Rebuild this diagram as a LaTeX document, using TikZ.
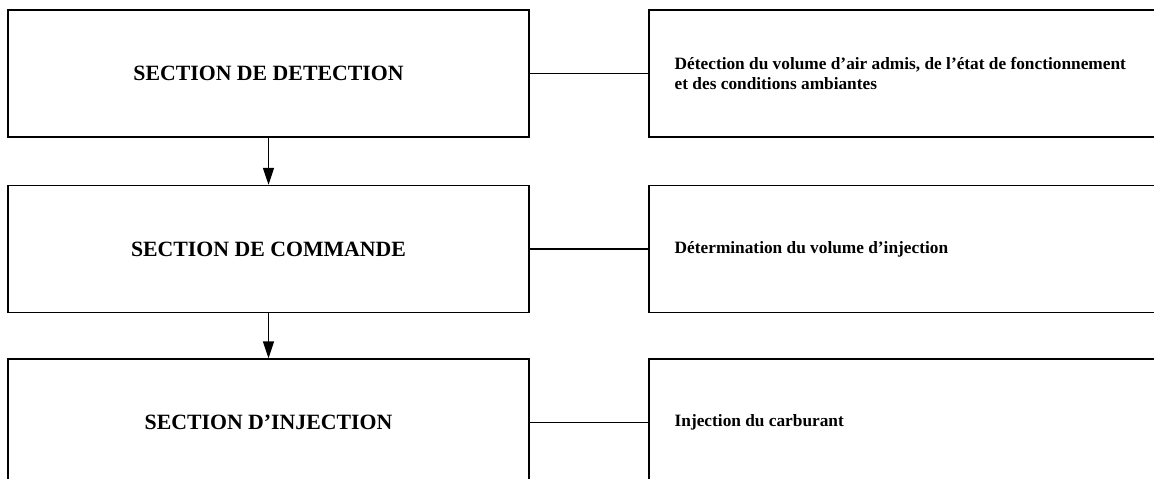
\documentclass[tikz,border=0pt]{standalone}
\usepackage{fontspec}
\setmainfont{Liberation Serif}
\usetikzlibrary{arrows.meta}

\begin{document}
\begin{tikzpicture}[
		x=1pt, y=-1pt,
		line width=1.4pt,
		secbox/.style={draw, rectangle, minimum width=521pt, minimum height=127pt, inner sep=0pt,
			font=\bfseries\fontsize{21.8}{26}\selectfont},
		descbox/.style={draw, rectangle, minimum width=640pt, minimum height=127pt, inner sep=0pt},
		desctext/.style={anchor=west, align=left, inner sep=0pt,
			font=\bfseries\fontsize{17.3}{20.5}\selectfont},
		flow/.style={-{Triangle[length=17pt,width=11pt]}}
		]
		\useasboundingbox (0,0) rectangle (1154,479);
		\clip (0,0) rectangle (1154,479);
		% left column
		\node[secbox] (detect) at (268.5,73.5) {SECTION DE DETECTION};
		\node[secbox] (command) at (268.5,249) {SECTION DE COMMANDE};
		\node[secbox] (inject) at (268.5,422.5) {SECTION D'INJECTION};
		% right column, running off the page
		\node[descbox] (detectd) at (969,73.5) {};
		\node[descbox] (commandd) at (969,249) {};
		\node[descbox] (injectd) at (969,422.5) {};
		\node[desctext] (detectt) at (674,73.5) {Détection du volume d'air admis, de l'état de fonctionnement\\et des conditions ambiantes};
		\node[desctext] (commandt) at (674,249) {Détermination du volume d'injection};
		\node[desctext] (injectt) at (674,422.5) {Injection du carburant};
		% connectors
		\draw (detect.east) -- (detectd.west);
		\draw (command.east) -- (commandd.west);
		\draw (inject.east) -- (injectd.west);
		\draw[flow] (detect.south) -- (command.north);
		\draw[flow] (command.south) -- (inject.north);
\end{tikzpicture}
\end{document}
